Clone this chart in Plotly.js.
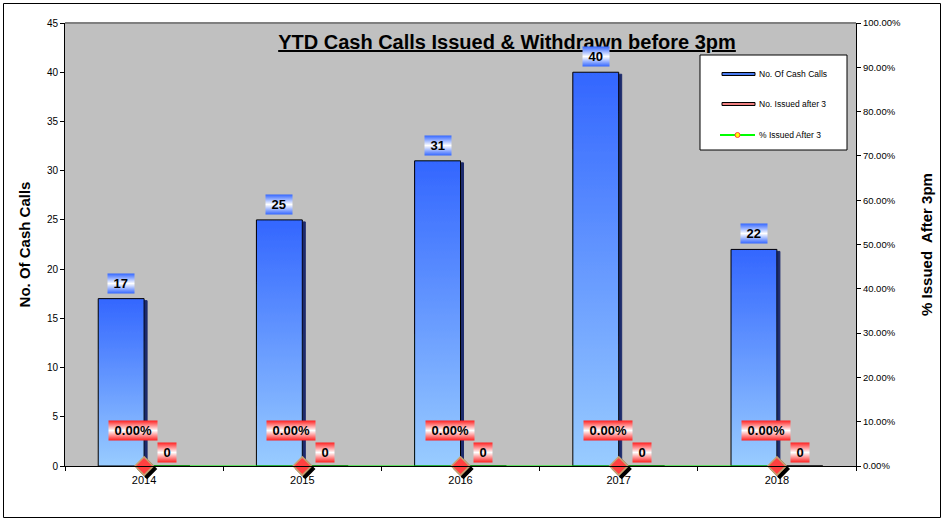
<!DOCTYPE html>
<html>
<head>
<meta charset="utf-8">
<script src="https://cdn.plot.ly/plotly-3.0.1.min.js"></script>
<style>
  body { margin: 0; background: #fff; }
  #plot { width: 944px; height: 519px; }
</style>
</head>
<body>
<svg width="0" height="0" style="position:absolute">
  <defs>
    <linearGradient id="gBar" x1="0" y1="0" x2="0" y2="1">
      <stop offset="0" stop-color="#3366ff"/>
      <stop offset="1" stop-color="#99ccff"/>
    </linearGradient>
    <linearGradient id="gBlueLbl" x1="0" y1="0" x2="0" y2="1">
      <stop offset="0" stop-color="#3366ff"/>
      <stop offset="0.5" stop-color="#ffffff"/>
      <stop offset="1" stop-color="#3366ff"/>
    </linearGradient>
    <linearGradient id="gRedLbl" x1="0" y1="0" x2="0" y2="1">
      <stop offset="0" stop-color="#ff2020"/>
      <stop offset="0.5" stop-color="#ffffff"/>
      <stop offset="1" stop-color="#ff2020"/>
    </linearGradient>
    <filter id="barShadow" x="-20%" y="-10%" width="150%" height="130%">
      <feDropShadow dx="3" dy="2" stdDeviation="0" flood-color="#1a2a6c"/>
    </filter>
    <filter id="ptShadow" x="-50%" y="-50%" width="220%" height="220%">
      <feDropShadow dx="3" dy="3" stdDeviation="0.4" flood-color="#000"/>
    </filter>
  </defs>
</svg>
<div id="plot"></div>
<script>
const years = ['2014', '2015', '2016', '2017', '2018'];
const cashCalls = [17, 25, 31, 40, 22];
const issuedAfter3 = [0, 0, 0, 0, 0];
const pctAfter3 = [0, 0, 0, 0, 0];

const seriesNames = ['No. Of Cash Calls', 'No. Issued after 3', '% Issued After 3'];

const FONT = 'Arial, "Liberation Sans", sans-serif';

// plot area in pixels (used for legend / frame placement)
const M = {l: 65, r: 88, t: 23, b: 53};
const W = 944, H = 519;
const PW = W - M.l - M.r, PH = H - M.t - M.b;
const px = x => (x - M.l) / PW;
const py = y => (H - M.b - y) / PH;

const barGap = 0.42;
const barPx = PW / years.length * (1 - barGap) / 2;

const traces = [
    {
        type: 'bar',
        name: seriesNames[0],
        x: years,
        y: cashCalls,
        marker: {color: '#3366ff', line: {color: '#000', width: 1}},
        showlegend: false,
        hoverinfo: 'x+y'
    },
    {
        type: 'bar',
        name: seriesNames[1],
        x: years,
        y: issuedAfter3,
        marker: {color: '#f08080', line: {color: '#000', width: 1}},
        showlegend: false
    },
    {
        type: 'scatter',
        mode: 'lines+markers',
        name: seriesNames[2],
        x: years,
        y: pctAfter3,
        yaxis: 'y2',
        cliponaxis: false,
        line: {color: '#00ff00', width: 1},
        marker: {symbol: 'diamond', size: 14, color: '#ff4040', line: {color: '#c8a070', width: 1.5}},
        showlegend: false
    }
];

// data labels (x given as category index; year strings would be read as numbers)
const annotations = [];
const lblFont = {family: FONT, size: 13, color: '#000', weight: 'bold'};
years.forEach((yr, i) => {
    annotations.push({
        x: i, y: cashCalls[i], xref: 'x', yref: 'y',
        text: '\u00a0' + cashCalls[i] + '\u00a0',
        showarrow: false, yanchor: 'bottom', xshift: -barPx / 2, yshift: 5,
        bgcolor: '#3366ff', borderpad: 2, font: lblFont
    });
    annotations.push({
        x: i, y: issuedAfter3[i], xref: 'x', yref: 'y',
        text: '\u00a0' + issuedAfter3[i] + '\u00a0',
        showarrow: false, yanchor: 'bottom', xshift: barPx / 2, yshift: 3,
        bgcolor: '#ff2020', borderpad: 2, font: lblFont
    });
    annotations.push({
        x: i, y: pctAfter3[i], xref: 'x', yref: 'y2',
        text: '\u00a0' + (pctAfter3[i] * 100).toFixed(2) + '%\u00a0',
        showarrow: false, yanchor: 'bottom', xshift: -11, yshift: 25,
        bgcolor: '#ff2020', borderpad: 2, font: lblFont
    });
});

// legend text
const legY = [74, 104, 135];
seriesNames.forEach((n, i) => {
    annotations.push({
        xref: 'paper', yref: 'paper', x: px(757), y: py(legY[i]),
        xanchor: 'left', yanchor: 'middle', text: n, showarrow: false,
        font: {family: FONT, size: 8.5, color: '#000'}
    });
});

const shapes = [
    // outer frame
    {type: 'rect', xref: 'paper', yref: 'paper', x0: px(3.5), x1: px(940.5), y0: py(3.5), y1: py(517.5),
     line: {color: '#000', width: 1}},
    // top border of plot area
    {type: 'line', xref: 'paper', yref: 'paper', x0: 0, x1: 1, y0: 1, y1: 1,
     line: {color: '#808080', width: 2}},
    // legend box
    {type: 'rect', xref: 'paper', yref: 'paper', x0: px(700), x1: px(847), y0: py(55), y1: py(150),
     fillcolor: '#fff', line: {color: '#000', width: 1}},
    {type: 'rect', xref: 'paper', yref: 'paper', x0: px(722), x1: px(755), y0: py(legY[0] - 1.5), y1: py(legY[0] + 1.5),
     fillcolor: '#4a7bf0', line: {color: '#000', width: 1}},
    {type: 'rect', xref: 'paper', yref: 'paper', x0: px(722), x1: px(755), y0: py(legY[1] - 1.5), y1: py(legY[1] + 1.5),
     fillcolor: '#f08080', line: {color: '#000', width: 1}},
    {type: 'line', xref: 'paper', yref: 'paper', x0: px(720), x1: px(755), y0: py(legY[2]), y1: py(legY[2]),
     line: {color: '#00ff00', width: 2}},
    {type: 'circle', xref: 'paper', yref: 'paper', x0: px(735), x1: px(740), y0: py(legY[2] - 2.5), y1: py(legY[2] + 2.5),
     fillcolor: '#ffff00', line: {color: '#ff4040', width: 1}}
];

const layout = {
    width: W,
    height: H,
    margin: M,
    paper_bgcolor: '#fff',
    plot_bgcolor: '#c0c0c0',
    font: {family: FONT, color: '#000'},
    title: {
        text: 'YTD Cash Calls Issued & Withdrawn before 3pm',
        font: {family: FONT, size: 20, weight: 'bold', lineposition: 'under', color: '#000'},
        xref: 'paper', x: px(507), xanchor: 'center',
        yref: 'container', y: 1 - 42 / H, yanchor: 'middle'
    },
    barmode: 'group',
    bargap: barGap,
    bargroupgap: 0,
    xaxis: {
        type: 'category',
        range: [-0.5, years.length - 0.5],
        showgrid: false,
        showline: true, linecolor: '#000', linewidth: 1,
        ticks: 'outside', ticklen: 4, tickcolor: '#000', tickson: 'boundaries',
        ticklabelstandoff: 4,
        tickfont: {size: 11, color: '#000'},
        zeroline: false
    },
    yaxis: {
        range: [0, 45], dtick: 5,
        showgrid: false, zeroline: false,
        showline: true, linecolor: '#000', linewidth: 1,
        ticks: 'outside', ticklen: 4, tickcolor: '#000',
        tickfont: {size: 10, color: '#000'},
        title: {text: 'No. Of Cash Calls', font: {size: 15, weight: 'bold'}, standoff: 12}
    },
    yaxis2: {
        overlaying: 'y', side: 'right',
        range: [0, 1], dtick: 0.1, tickformat: '.2%',
        showgrid: false, zeroline: false,
        showline: true, linecolor: '#000', linewidth: 1,
        ticks: 'outside', ticklen: 4, tickcolor: '#000',
        tickfont: {size: 9.5, color: '#000'},
        title: {text: '% Issued  After 3pm', font: {size: 15, weight: 'bold'}, standoff: 21}
    },
    showlegend: false,
    annotations: annotations,
    shapes: shapes
};

Plotly.newPlot('plot', traces, layout, {staticPlot: true}).then(gd => {
    // gradient fill + shadow on the cash call bars
    const barTraces = gd.querySelectorAll('.barlayer .trace');
    barTraces[0].querySelectorAll('.point path').forEach(p => {
        p.style.fill = 'url(#gBar)';
        p.setAttribute('filter', 'url(#barShadow)');
    });
    // shadow under the diamonds
    gd.querySelectorAll('.scatterlayer .point').forEach(p => p.setAttribute('filter', 'url(#ptShadow)'));
    // gradient boxes behind the labels
    gd.querySelectorAll('.infolayer .annotation .bg').forEach(bg => {
        const f = bg.style.fill.replace(/\s/g, '');
        if (f === 'rgb(51,102,255)') bg.style.fill = 'url(#gBlueLbl)';
        else if (f === 'rgb(255,32,32)') bg.style.fill = 'url(#gRedLbl)';
    });
});
</script>
</body>
</html>
